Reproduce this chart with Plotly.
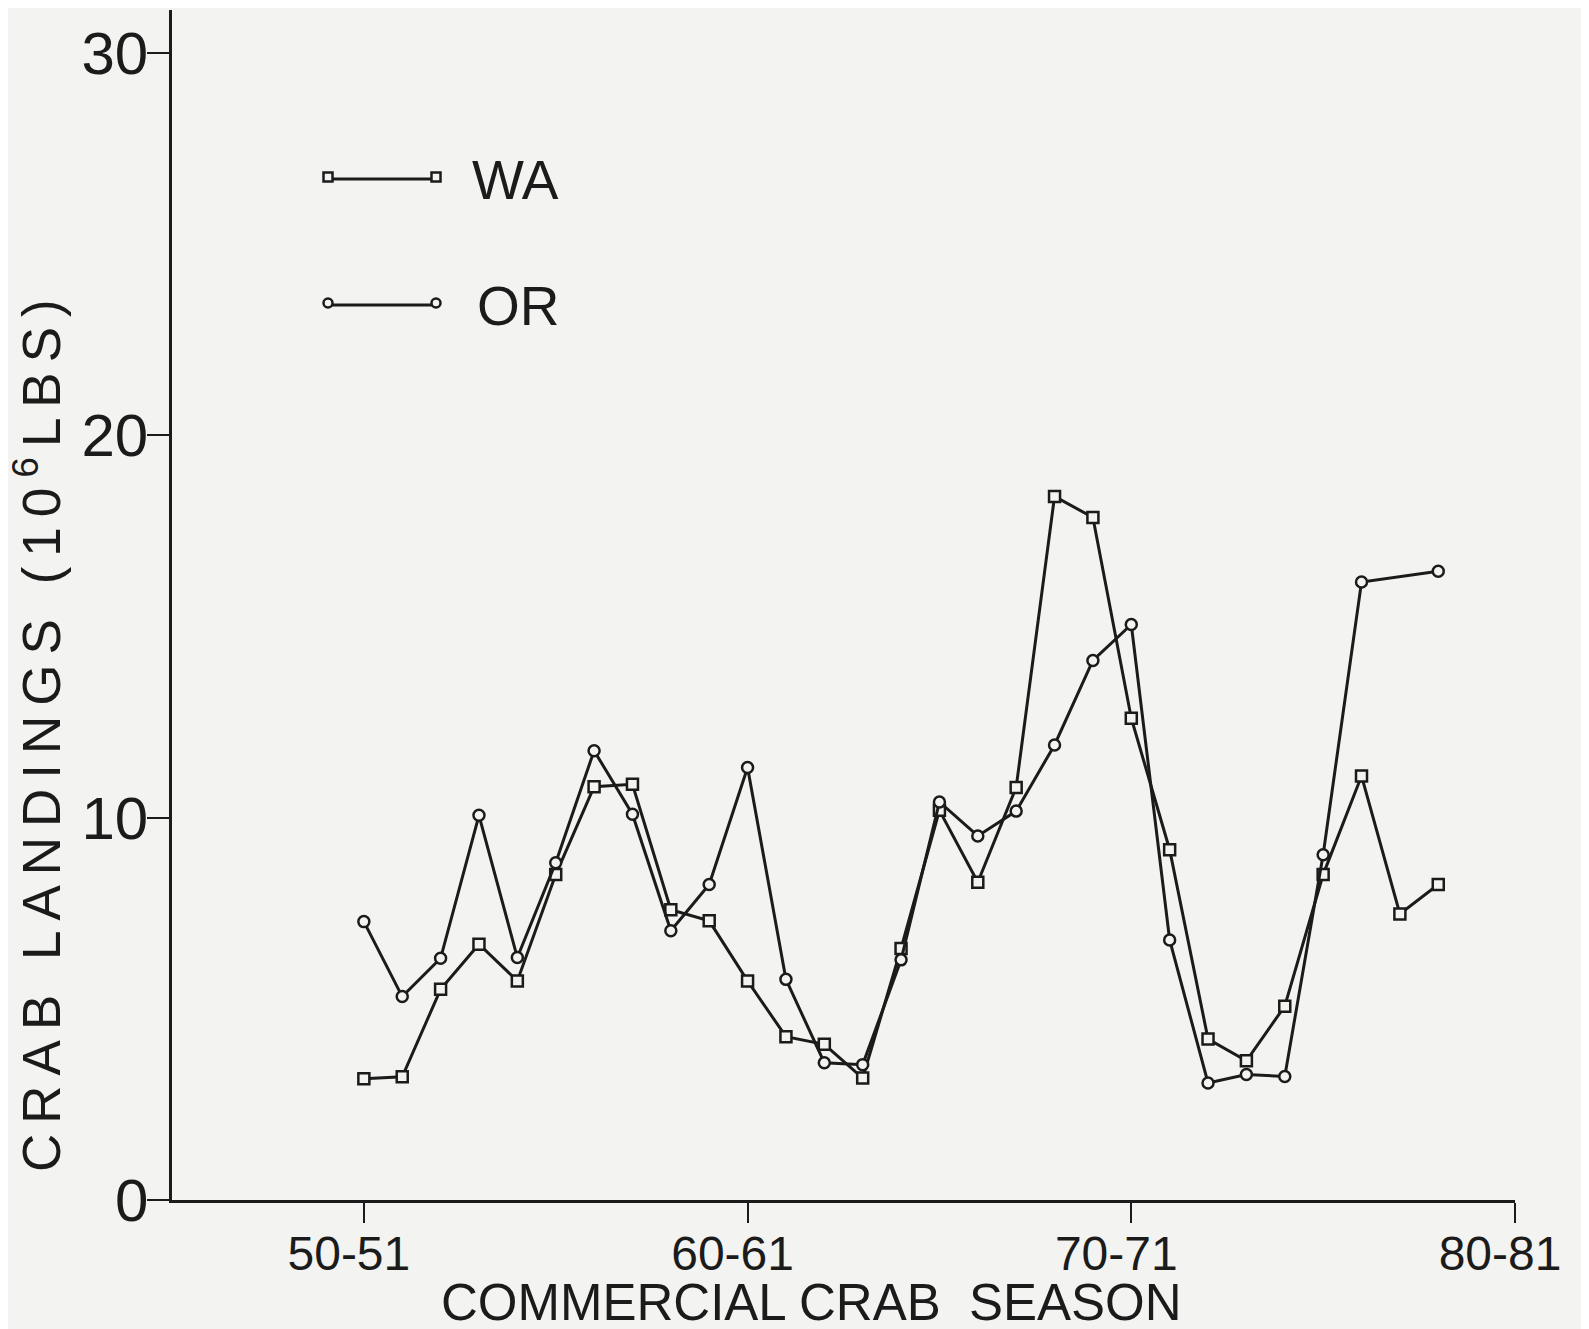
import plotly.graph_objects as go

# ---- data ----
wa_seasons = list(range(50, 79))
wa_landings = [3.17, 3.22, 5.51, 6.69, 5.73, 8.51, 10.81, 10.87, 7.59, 7.30,
               5.73, 4.27, 4.07, 3.19, 6.58, 10.19, 8.31, 10.79, 18.40, 17.85,
               12.60, 9.16, 4.21, 3.64, 5.07, 8.51, 11.09, 7.48, 8.25]
or_seasons = list(range(50, 77)) + [78]
or_landings = [7.28, 5.32, 6.32, 10.06, 6.34, 8.82, 11.75, 10.09, 7.04, 8.25,
               11.31, 5.77, 3.59, 3.54, 6.28, 10.41, 9.52, 10.17, 11.90, 14.11,
               15.05, 6.80, 3.06, 3.28, 3.23, 9.03, 16.16, 16.44]
x_tick_vals = [50, 60, 70, 80]
x_tick_text = ["50-51", "60-61", "70-71", "80-81"]
y_tick_vals = [0, 10, 20, 30]
y_tick_text = ["0", "10", "20", "30"]

BG = "#f3f3f1"
INK = "#1b1b1b"
FONT = "Liberation Sans, Arial, sans-serif"

fig = go.Figure()
fig.add_trace(go.Scatter(
    x=wa_seasons, y=wa_landings, mode="lines+markers", name="WA",
    line=dict(color=INK, width=3),
    marker=dict(symbol="square", size=11, color=BG, line=dict(color=INK, width=2.5)),
    showlegend=False,
))
fig.add_trace(go.Scatter(
    x=or_seasons, y=or_landings, mode="lines+markers", name="OR",
    line=dict(color=INK, width=3),
    marker=dict(symbol="circle", size=11, color=BG, line=dict(color=INK, width=2.5)),
    showlegend=False,
))

# page body adds an 8px offset; compensate so the plot lands where the reference has it
OFF = 8
W, H = 1589, 1329
PLOT_L, PLOT_R, PLOT_T, PLOT_B = 172, 1515, 10, 1200   # target page pixels
L = PLOT_L - OFF
T = PLOT_T - OFF
R = W - (PLOT_R - OFF)
B = H - (PLOT_B - OFF)
PW, PH = PLOT_R - PLOT_L, PLOT_B - PLOT_T


def px(xpix):
    return (xpix - PLOT_L) / PW


def py(ypix):
    return (PLOT_B - ypix) / PH


shapes = []
annotations = []
# hand-drawn style legend: line with a marker at both ends
for (yline, kind, label, xtext) in [(179, "rect", "WA", 470), (305, "circle", "OR", 475)]:
    shapes.append(dict(type="line", xref="paper", yref="paper",
                       x0=px(328), x1=px(436), y0=py(yline), y1=py(yline),
                       line=dict(color=INK, width=3)))
    for xc in (328, 436):
        shapes.append(dict(type=kind, xref="paper", yref="paper",
                           xsizemode="pixel", ysizemode="pixel",
                           xanchor=px(xc), yanchor=py(yline - 2),
                           x0=-4.5, x1=4.5, y0=-4.5, y1=4.5,
                           fillcolor=BG, line=dict(color=INK, width=2.5)))
    annotations.append(dict(text=label, xref="paper", yref="paper",
                            x=px(xtext), y=py(yline + 1), xanchor="left", yanchor="middle",
                            showarrow=False, font=dict(family=FONT, size=55, color=INK)))

annotations.append(dict(
    text="COMMERCIAL CRAB  SEASON", xref="paper", yref="paper",
    x=px(811), y=py(1302), xanchor="center", yanchor="middle", showarrow=False,
    font=dict(family=FONT, size=51, color=INK)))
annotations.append(dict(
    text='<span style="letter-spacing:10px">CRAB LANDINGS (10<sup>6</sup>LBS)</span>',
    xref="paper", yref="paper", x=px(37), y=py(731), xanchor="center", yanchor="middle",
    textangle=-90, showarrow=False, font=dict(family=FONT, size=53, color=INK)))

fig.update_layout(
    width=W, height=H,
    margin=dict(l=L, r=R, t=T, b=B, pad=0, autoexpand=False),
    paper_bgcolor=BG, plot_bgcolor=BG,
    shapes=shapes, annotations=annotations,
    font=dict(family=FONT, color=INK),
)
fig.update_xaxes(
    range=[45, 80], showgrid=False, zeroline=False, automargin=False,
    showline=True, linecolor=INK, linewidth=3,
    ticks="outside", ticklen=20, tickwidth=2, tickcolor=INK,
    tickvals=x_tick_vals, ticktext=x_tick_text,
    tickfont=dict(family=FONT, size=48, color=INK),
    ticklabelshift=-15, ticklabelstandoff=-11,
)
fig.update_yaxes(
    range=[0, 31.12], showgrid=False, zeroline=False, automargin=False,
    showline=True, linecolor=INK, linewidth=2.5,
    ticks="outside", ticklen=22, tickwidth=2, tickcolor=INK,
    tickvals=y_tick_vals, ticktext=y_tick_text,
    tickfont=dict(family=FONT, size=60, color=INK),
    ticklabelstandoff=-13,
)

fig.write_html("out.html")
